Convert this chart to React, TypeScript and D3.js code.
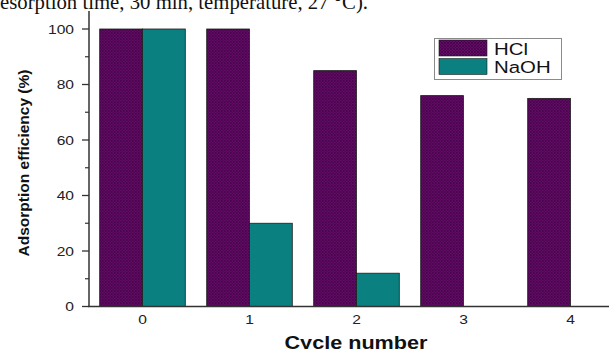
import React from "react";
import * as d3 from "d3";

// cycle numbers on the x axis
const cycles = ["0", "1", "2", "3", "4"];
// adsorption efficiency (%) after desorption with each eluent
const hclValues = [100, 100, 85, 76, 75];
const naohValues = [100, 30, 12, 0, 0];
const seriesNames = ["HCl", "NaOH"];
const yTicks = [0, 20, 40, 60, 80, 100];
const yMinorTicks = [10, 30, 50, 70, 90];

const W = 609;
const H = 349;

const App = () => {
  const x = d3
    .scaleBand()
    .domain(cycles)
    .range([89, 624])
    .paddingInner(0.2)
    .paddingOuter(0.1);
  const sub = d3.scaleBand().domain(seriesNames).range([0, x.bandwidth()]);
  const y = d3.scaleLinear().domain([0, 100]).range([306.5, 29]);
  const yTop = y(106.5);
  const color = d3.scaleOrdinal().domain(seriesNames).range(["url(#hatch)", "#0b8080"]);

  const rows = cycles.map((c, i) => ({ cycle: c, HCl: hclValues[i], NaOH: naohValues[i] }));
  const font = "'Liberation Sans', Arial, sans-serif";

  return (
    <svg
      width={W}
      height={H}
      style={{ position: "absolute", left: 0, top: 0, background: "#fff" }}
    >
      <defs>
        <pattern id="hatch" width="3" height="3" patternUnits="userSpaceOnUse">
          <rect width="3" height="3" fill="#650c68" />
          <path d="M0,0 L3,3 M3,0 L0,3" stroke="#400245" strokeWidth="0.7" />
        </pattern>
      </defs>

      {/* caption fragment from the figure above */}
      <text
        x={0}
        y={9}
        fontFamily="'Liberation Serif', 'Times New Roman', serif"
        fontSize={22}
        fill="#111"
        textLength={368}
        lengthAdjust="spacingAndGlyphs"
      >
        esorption time, 30 min, temperature, 27 °C).
      </text>

      {/* bars */}
      {rows.map((d) => (
        <g key={d.cycle} transform={`translate(${x(d.cycle)},0)`}>
          {seriesNames.map((s) =>
            d[s] > 0 ? (
              <rect
                key={s}
                x={sub(s)}
                y={y(d[s])}
                width={sub.bandwidth()}
                height={y(0) - y(d[s])}
                fill={color(s)}
                stroke="#1d1d1d"
                strokeWidth={0.8}
              />
            ) : null
          )}
        </g>
      ))}

      {/* y axis */}
      <line x1={89} x2={89} y1={yTop} y2={y(0)} stroke="#333" strokeWidth={1.5} />
      {yTicks.map((t) => (
        <g key={t}>
          <line x1={82} x2={89} y1={y(t)} y2={y(t)} stroke="#333" strokeWidth={1.3} />
          <text
            transform={`translate(74,${y(t)}) scale(1.2,1)`}
            dy="0.36em"
            textAnchor="end"
            fontFamily={font}
            fontSize={13}
            fill="#222"
          >
            {t}
          </text>
        </g>
      ))}
      {yMinorTicks.map((t) => (
        <line key={t} x1={85} x2={89} y1={y(t)} y2={y(t)} stroke="#333" strokeWidth={1.2} />
      ))}

      {/* x axis */}
      <line x1={88} x2={W} y1={y(0)} y2={y(0)} stroke="#333" strokeWidth={1.5} />
      {cycles.map((c) => (
        <text
          key={c}
          transform={`translate(${x(c) + x.bandwidth() / 2},${319}) scale(1.2,1)`}
          dy="0.36em"
          textAnchor="middle"
          fontFamily={font}
          fontSize={13}
          fill="#222"
        >
          {c}
        </text>
      ))}

      <text
        x={356}
        y={349}
        textAnchor="middle"
        fontFamily={font}
        fontWeight="bold"
        fontSize={18}
        fill="#111"
        textLength={143}
        lengthAdjust="spacingAndGlyphs"
      >
        Cycle number
      </text>
      <text
        transform={`translate(29,${163}) rotate(-90)`}
        textAnchor="middle"
        fontFamily={font}
        fontWeight="bold"
        fontSize={15}
        fill="#111"
        textLength={187}
        lengthAdjust="spacingAndGlyphs"
      >
        Adsorption efficiency (%)
      </text>

      {/* legend */}
      <g>
        <rect x={434.5} y={38.5} width={127} height={41} fill="#fff" stroke="#8a8a8a" strokeWidth={1} />
        {seriesNames.map((s, i) => (
          <g key={s} transform={`translate(439,${40 + i * 18.5})`}>
            <rect width={48} height={16} fill={color(s)} stroke="#1d1d1d" strokeWidth={0.6} />
            <text
              transform={`translate(55,8.5) scale(1.2,1)`}
              dy="0.36em"
              fontFamily={font}
              fontSize={17}
              fill="#111"
            >
              {s}
            </text>
          </g>
        ))}
      </g>
    </svg>
  );
};

export default App;
